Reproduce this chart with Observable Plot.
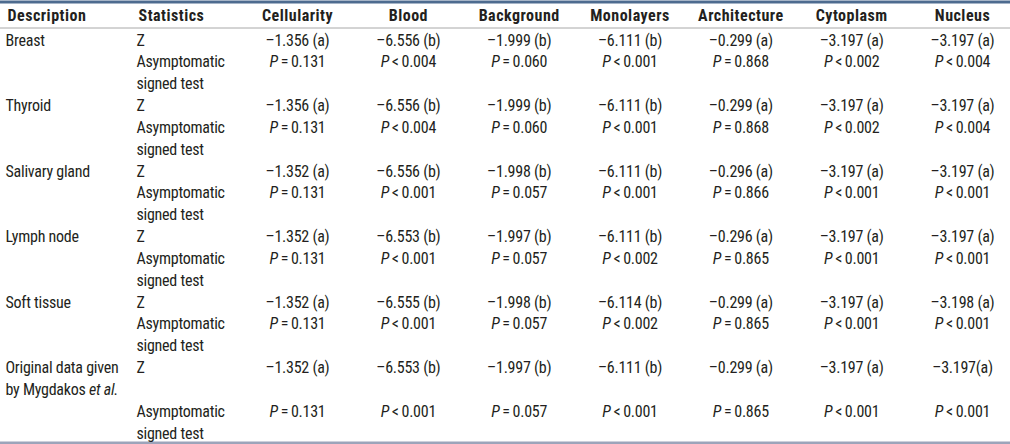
<!DOCTYPE html>
<html><head><meta charset="utf-8">
<script src="https://cdn.jsdelivr.net/npm/d3@7"></script>
<script src="https://cdn.jsdelivr.net/npm/@observablehq/plot@0.6"></script>
<style>
body{margin:0;background:#fff}
svg{display:block}
</style></head><body><div id="chart"></div>
<script>
const headers = ["Description","Statistics","Cellularity","Blood","Background","Monolayers","Architecture","Cytoplasm","Nucleus"];
const descriptions = ["Breast","Thyroid","Salivary gland","Lymph node","Soft tissue","Original data given\nby Mygdakos et al."];
const statLabels = ["Z","Asymptomatic\nsigned test"];

const zBreast   = ["–1.356 (a)","–6.556 (b)","–1.999 (b)","–6.111 (b)","–0.299 (a)","–3.197 (a)","–3.197 (a)"];
const pBreast   = ["P=0.131","P<0.004","P=0.060","P<0.001","P=0.868","P<0.002","P<0.004"];
const zThyroid  = ["–1.356 (a)","–6.556 (b)","–1.999 (b)","–6.111 (b)","–0.299 (a)","–3.197 (a)","–3.197 (a)"];
const pThyroid  = ["P=0.131","P<0.004","P=0.060","P<0.001","P=0.868","P<0.002","P<0.004"];
const zSalivary = ["–1.352 (a)","–6.556 (b)","–1.998 (b)","–6.111 (b)","–0.296 (a)","–3.197 (a)","–3.197 (a)"];
const pSalivary = ["P=0.131","P<0.001","P=0.057","P<0.001","P=0.866","P<0.001","P<0.001"];
const zLymph    = ["–1.352 (a)","–6.553 (b)","–1.997 (b)","–6.111 (b)","–0.296 (a)","–3.197 (a)","–3.197 (a)"];
const pLymph    = ["P=0.131","P<0.001","P=0.057","P<0.002","P=0.865","P<0.001","P<0.001"];
const zSoft     = ["–1.352 (a)","–6.555 (b)","–1.998 (b)","–6.114 (b)","–0.299 (a)","–3.197 (a)","–3.198 (a)"];
const pSoft     = ["P=0.131","P<0.001","P=0.057","P<0.002","P=0.865","P<0.001","P<0.001"];
const zOriginal = ["–1.352 (a)","–6.553 (b)","–1.997 (b)","–6.111 (b)","–0.299 (a)","–3.197 (a)","–3.197(a)"];
const pOriginal = ["P=0.131","P<0.001","P=0.057","P<0.001","P=0.865","P<0.001","P<0.001"];

const zRows = [zBreast, zThyroid, zSalivary, zLymph, zSoft, zOriginal];
const pRows = [pBreast, pThyroid, pSalivary, pLymph, pSoft, pOriginal];

// Flat table of text cells: column index, line index, text
const headerCells = headers.map((h, i) => ({col: i, line: -1, text: h}));
const bodyCells = [];
let base = 0;
descriptions.forEach((d, g) => {
  const dLines = d.split("\n");
  dLines.forEach((t, k) => bodyCells.push({col: 0, line: base + k, text: t}));
  bodyCells.push({col: 1, line: base, text: statLabels[0]});
  const pLine = base + Math.max(1, dLines.length);
  const sLines = statLabels[1].split("\n");
  sLines.forEach((t, k) => bodyCells.push({col: 1, line: pLine + k, text: t}));
  zRows[g].forEach((v, j) => bodyCells.push({col: 2 + j, line: base, text: v}));
  pRows[g].forEach((v, j) => bodyCells.push({col: 2 + j, line: pLine, text: v}));
  base = pLine + sLines.length;
});

// Pick a condensed face: Roboto with a width axis if present, else DejaVu Sans Condensed
const NS = "http://www.w3.org/2000/svg";
function measure(family, stretch, size) {
  const s = document.createElementNS(NS, "svg");
  s.setAttribute("width", 10); s.setAttribute("height", 10);
  const t = document.createElementNS(NS, "text");
  t.setAttribute("font-family", family);
  t.setAttribute("font-size", size);
  t.style.fontStretch = stretch;
  t.textContent = "Asymptomatic";
  s.appendChild(t);
  document.body.appendChild(s);
  const w = t.getBBox().width;
  s.remove();
  return w;
}
let font, bodyStretch, headStretch, bodySpacing, headSpacing, fontSize;
const rN = measure("Roboto", "100%", 15), rC = measure("Roboto", "75%", 15);
if (rC < rN * 0.95) {
  font = "Roboto, sans-serif"; bodyStretch = "75%"; headStretch = "87%"; bodySpacing = -0.25; headSpacing = 0.5; fontSize = 16;
} else {
  font = "'DejaVu Sans Condensed', sans-serif"; bodyStretch = "normal"; headStretch = "normal"; bodySpacing = -0.2; headSpacing = 0; fontSize = 14;
}

const ink = "#231f20";

const chart = Plot.plot({
  width: 1010,
  height: 444,
  margin: 0,
  style: {fontFamily: font, fontSize: fontSize + "px", color: ink, background: "#fff"},
  x: {type: "linear", domain: [0, 1, 2, 8], range: [5, 136, 297, 962], axis: null},
  y: {type: "linear", domain: [-1, 0, 18], range: [15, 40, 433], axis: null},
  marks: [
    Plot.ruleY([-1.54], {stroke: "#4d6b8f", strokeWidth: 3}),
    Plot.ruleY([-0.5], {stroke: "#a8a8a8", strokeWidth: 1}),
    Plot.ruleY([18.43], {stroke: "#9ca4ba", strokeWidth: 3}),
    Plot.text(headerCells.filter(d => d.col < 2), {x: "col", y: "line", text: "text", fill: ink, fontWeight: "bold", textAnchor: "start", dx: 2, className: "head"}),
    Plot.text(headerCells.filter(d => d.col >= 2), {x: "col", y: "line", text: "text", fill: ink, fontWeight: "bold", textAnchor: "middle", className: "head"}),
    Plot.text(bodyCells.filter(d => d.col < 2), {x: "col", y: "line", text: "text", fill: ink, textAnchor: "start", className: "body"}),
    Plot.text(bodyCells.filter(d => d.col >= 2), {x: "col", y: "line", text: "text", fill: ink, textAnchor: "middle", className: "body"})
  ]
});

chart.querySelectorAll("g.body text").forEach(t => {
  t.style.letterSpacing = bodySpacing + "px";
  t.style.fontStretch = bodyStretch;
  t.style.fontWeight = "430";
});
chart.querySelectorAll("g.head text").forEach(t => {
  t.style.fontStretch = headStretch;
  t.style.letterSpacing = headSpacing + "px";
});

// Italicise the statistic symbol P and "et al."
chart.querySelectorAll("text").forEach(t => {
  const s = t.textContent;
  let m = s.match(/^(P)([=<])(.*)$/);
  if (m) {
    t.textContent = "";
    const it = document.createElementNS(NS, "tspan");
    it.setAttribute("font-style", "italic");
    it.textContent = "P";
    t.appendChild(it);
    t.appendChild(document.createTextNode("\u2009" + m[2] + "\u2009" + m[3]));
    return;
  }
  m = s.match(/^(.*?)(et al\.)(.*)$/);
  if (m) {
    t.textContent = m[1];
    const it = document.createElementNS(NS, "tspan");
    it.setAttribute("font-style", "italic");
    it.textContent = m[2];
    t.appendChild(it);
    if (m[3]) t.appendChild(document.createTextNode(m[3]));
  }
});

document.getElementById("chart").appendChild(chart);
</script></body></html>
